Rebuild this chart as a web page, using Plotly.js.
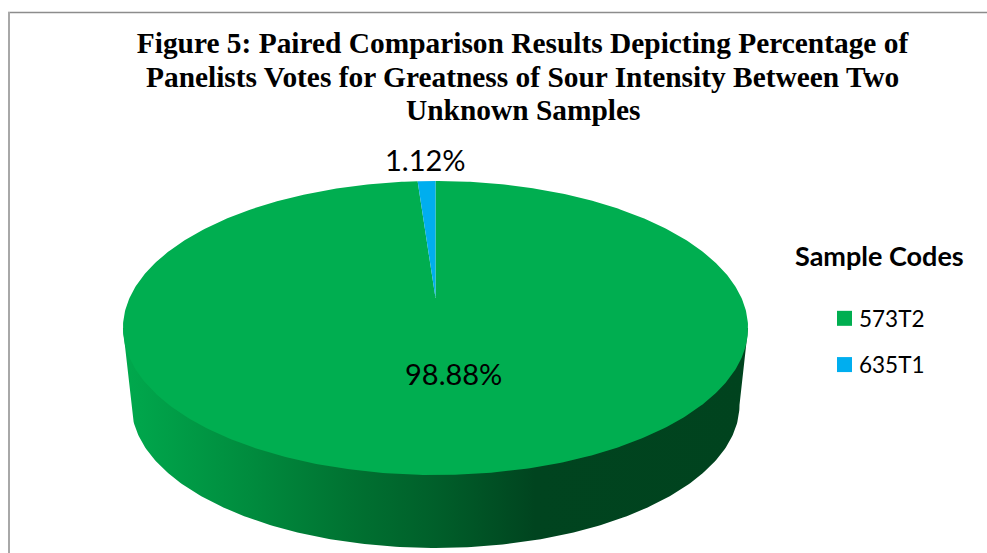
<!DOCTYPE html>
<html>
<head>
<meta charset="utf-8">
<script src="https://cdn.plot.ly/plotly-3.0.1.min.js"></script>
<style>html,body{margin:0;padding:0;background:#fff}#chart{width:987px;height:553px}</style>
</head>
<body>
<div id="chart"></div>
<script>
const categories = ['573T2', '635T1'];
const values = [98.88, 1.12];
const sliceColors = ['#00AE50', '#00AEEF'];
const titleLines = [
  'Figure 5: Paired Comparison Results Depicting Percentage of',
  'Panelists Votes for Greatness of Sour Intensity Between Two',
  'Unknown Samples'
];
const legendTitle = 'Sample Codes';

// Perspective projection of a unit disc onto the plot's axes
const apex = {x: 435.5, y: 298};
const persp = {k: 0.204, a: 306, b: 140.9};
const lower = {cx: 435.5, cy: 405, rx: 304, ry: 143};
const rimLeftX = 123, rimRightX = 748;

function project(theta) {           // theta: clockwise from 12 o'clock, radians
  const u = Math.sin(theta), v = Math.cos(theta);
  const d = 1 + persp.k * v;
  return [apex.x + persp.a * u / d, apex.y - persp.b * v / d];
}
const total = values.reduce((a, b) => a + b, 0);

function sliceTrace(i) {
  const start = values.slice(0, i).reduce((a, b) => a + b, 0) / total * 2 * Math.PI;
  const sweep = values[i] / total * 2 * Math.PI;
  const n = Math.max(8, Math.round(values[i] * 6));
  const xs = [apex.x], ys = [apex.y];
  for (let j = 0; j <= n; j++) {
    const p = project(start + sweep * j / n);
    xs.push(p[0]); ys.push(p[1]);
  }
  xs.push(apex.x); ys.push(apex.y);
  return {x: xs, y: ys, type: 'scatter', mode: 'lines', fill: 'toself',
    fillcolor: sliceColors[i], line: {width: 0, color: sliceColors[i]},
    showlegend: false, hoverinfo: 'skip'};
}

// side wall of the disc
function rimTrace() {
  const xs = [], ys = [];
  const topL = project(-Math.acos(-persp.k)), topR = project(Math.acos(-persp.k));
  xs.push(topL[0]); ys.push(topL[1]);
  for (let j = 0; j <= 240; j++) {
    const t = Math.PI - Math.PI * j / 240;
    xs.push(lower.cx + lower.rx * Math.cos(t));
    ys.push(lower.cy + lower.ry * Math.sin(t));
  }
  xs.push(topR[0]); ys.push(topR[1]);
  xs.push(topL[0]); ys.push(topL[1]);
  return {x: xs, y: ys, type: 'scatter', mode: 'lines', fill: 'toself',
    line: {width: 0, color: '#00431E'},
    fillgradient: {type: 'horizontal', start: rimLeftX, stop: rimRightX,
      colorscale: [[0, '#00A94D'], [0.2, '#008C3E'], [0.37, '#007131'],
                   [0.5, '#005F2A'], [0.66, '#00441F'], [1, '#00431E']]},
    showlegend: false, hoverinfo: 'skip'};
}

const legendTraces = categories.map((c, i) => ({
  x: [null], y: [null], type: 'scatter', mode: 'markers', name: c, legendgroup: c,
  marker: {symbol: 'square', size: 15, color: sliceColors[i]}, hoverinfo: 'skip'
}));

const traces = [rimTrace(), sliceTrace(0), sliceTrace(1)].concat(legendTraces);

const labelFont = {family: 'Lato, Carlito, sans-serif', size: 29, color: '#000'};
const titleFont = {family: '"Liberation Serif", serif', size: 29.4, color: '#000', weight: 700};

const annotations = [
  {text: titleLines[1], x: 522.5, y: 76.5},
  {text: titleLines[2], x: 522.5, y: 110}
].map(a => Object.assign(a, {xref: 'x', yref: 'y', showarrow: false, font: titleFont}));
annotations.push(
  {text: values[0].toFixed(2) + '%', x: 453, y: 373.5, xref: 'x', yref: 'y', showarrow: false, font: labelFont},
  {text: values[1].toFixed(2) + '%', x: 425, y: 159, xref: 'x', yref: 'y', showarrow: false, font: labelFont}
);

const layout = {
  width: 987, height: 553,
  margin: {l: 0, r: 0, t: 0, b: 0},
  paper_bgcolor: '#fff', plot_bgcolor: '#fff',
  hovermode: false,
  title: {text: titleLines[0], x: 522.5 / 987, xanchor: 'center', y: 1 - 43 / 553, yanchor: 'middle',
          xref: 'paper', yref: 'paper', font: titleFont, automargin: false},
  xaxis: {range: [0, 987], visible: false, fixedrange: true},
  yaxis: {range: [553, 0], visible: false, fixedrange: true},
  legend: {
    x: 793 / 987, xanchor: 'left', y: 1 - 227 / 553, yanchor: 'top',
    indentation: 26,
    title: {text: legendTitle + '<br>&nbsp;', side: 'top', font: {family: 'Lato, sans-serif', size: 27, weight: 700, color: '#000'}},
    font: {family: labelFont.family, size: 22.5, color: '#000'},
    tracegroupgap: 14, bgcolor: 'rgba(0,0,0,0)', itemclick: false, itemdoubleclick: false
  },
  annotations: annotations,
  shapes: [
    {type: 'line', xref: 'x', yref: 'y', x0: 8, x1: 987, y0: 12.5, y1: 12.5, line: {color: '#8C8C8C', width: 1.3}},
    {type: 'line', xref: 'x', yref: 'y', x0: 9, x1: 9, y0: 12, y1: 553, line: {color: '#A8A8A8', width: 2}}
  ]
};

Plotly.newPlot('chart', traces, layout, {displayModeBar: false, staticPlot: true}).then(() => {
  // legend fine-tuning: swatches closer to their labels, title closer to the entries
  document.querySelectorAll('#chart .legend .legendpoints').forEach(g => g.setAttribute('transform', 'translate(5.5,0)'));
  const t = document.querySelector('#chart .legend .legendtitletext');
  if (t) t.setAttribute('transform', 'translate(0,4)');
});
</script>
</body>
</html>
